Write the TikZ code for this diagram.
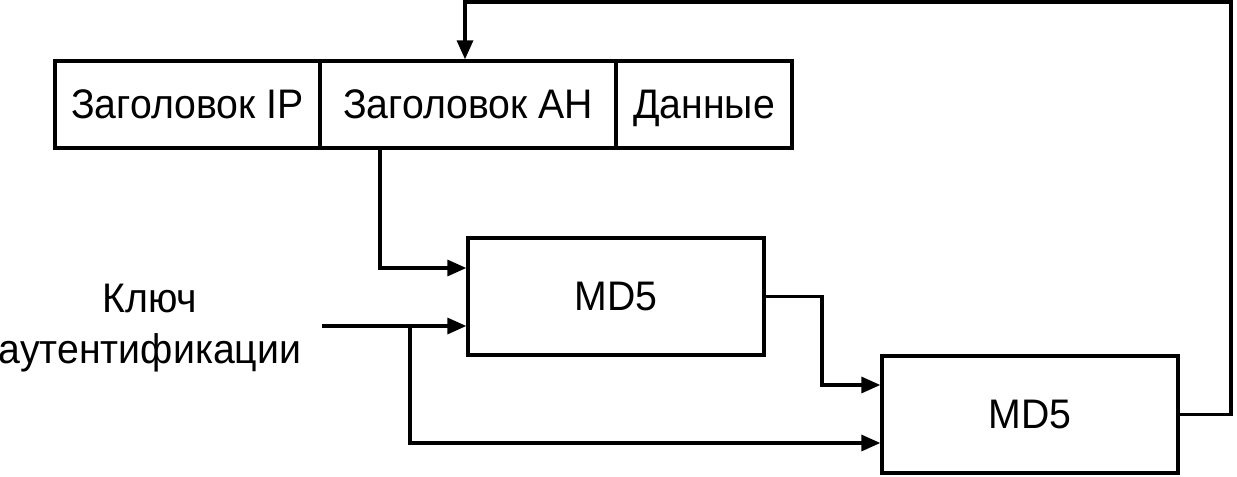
\documentclass[tikz,border=0pt]{standalone}
\usepackage{fontspec}
\setmainfont{Liberation Sans}[FakeStretch=0.95]
\usetikzlibrary{arrows.meta}
\tikzset{
  cell/.style={draw, line width=1.9pt, minimum height=1.74cm, inner sep=0pt,
    text height=0.6cm, text depth=0.05cm},
  hashbox/.style={draw, line width=1.9pt, minimum width=5.92cm, minimum height=2.34cm},
  conn/.style={line width=1.9pt, -{Triangle[length=0.38cm,width=0.32cm]}},
  wire/.style={line width=1.9pt}
}
\begin{document}
\begin{tikzpicture}[font=\fontsize{23.5}{29}\selectfont]
      \useasboundingbox (0,0) rectangle (24.74,9.52);
      \node[cell, minimum width=5.3cm] (ip) at (3.75,7.43) {Заголовок IP};
      \node[cell, minimum width=5.92cm] (ah) at (9.36,7.43) {Заголовок AH};
      \node[cell, minimum width=3.52cm] (data) at (14.08,7.43) {Данные};
      \node[hashbox] (md1) at (12.32,3.59) {MD5};
      \node[hashbox] (md2) at (20.6,1.23) {MD5};
      \node[align=center, inner sep=0pt] (key) at (3.0,2.96) {Ключ\\аутентификации};
      \coordinate (keyin) at (6.44,3.0);
      \coordinate (fork) at (8.2,3.0);
      \coordinate (ahout) at (7.6,6.56);
      \coordinate (top) at (24.62,9.48);
      \begin{scope}[wire]
        \draw[conn] (ahout) |- (md1.west |- 0,4.16);
        \draw[conn] (keyin) -- (md1.west |- keyin);
        \draw[conn] (fork) |- (md2.west |- 0,0.66);
        \draw[conn] (md1.east) -| (16.44,1.82) -- (md2.west |- 0,1.82);
        \draw[conn] (md2.east) -| (top) -| (9.3,0 |- ah.north);
      \end{scope}
    \end{tikzpicture}
\end{document}
